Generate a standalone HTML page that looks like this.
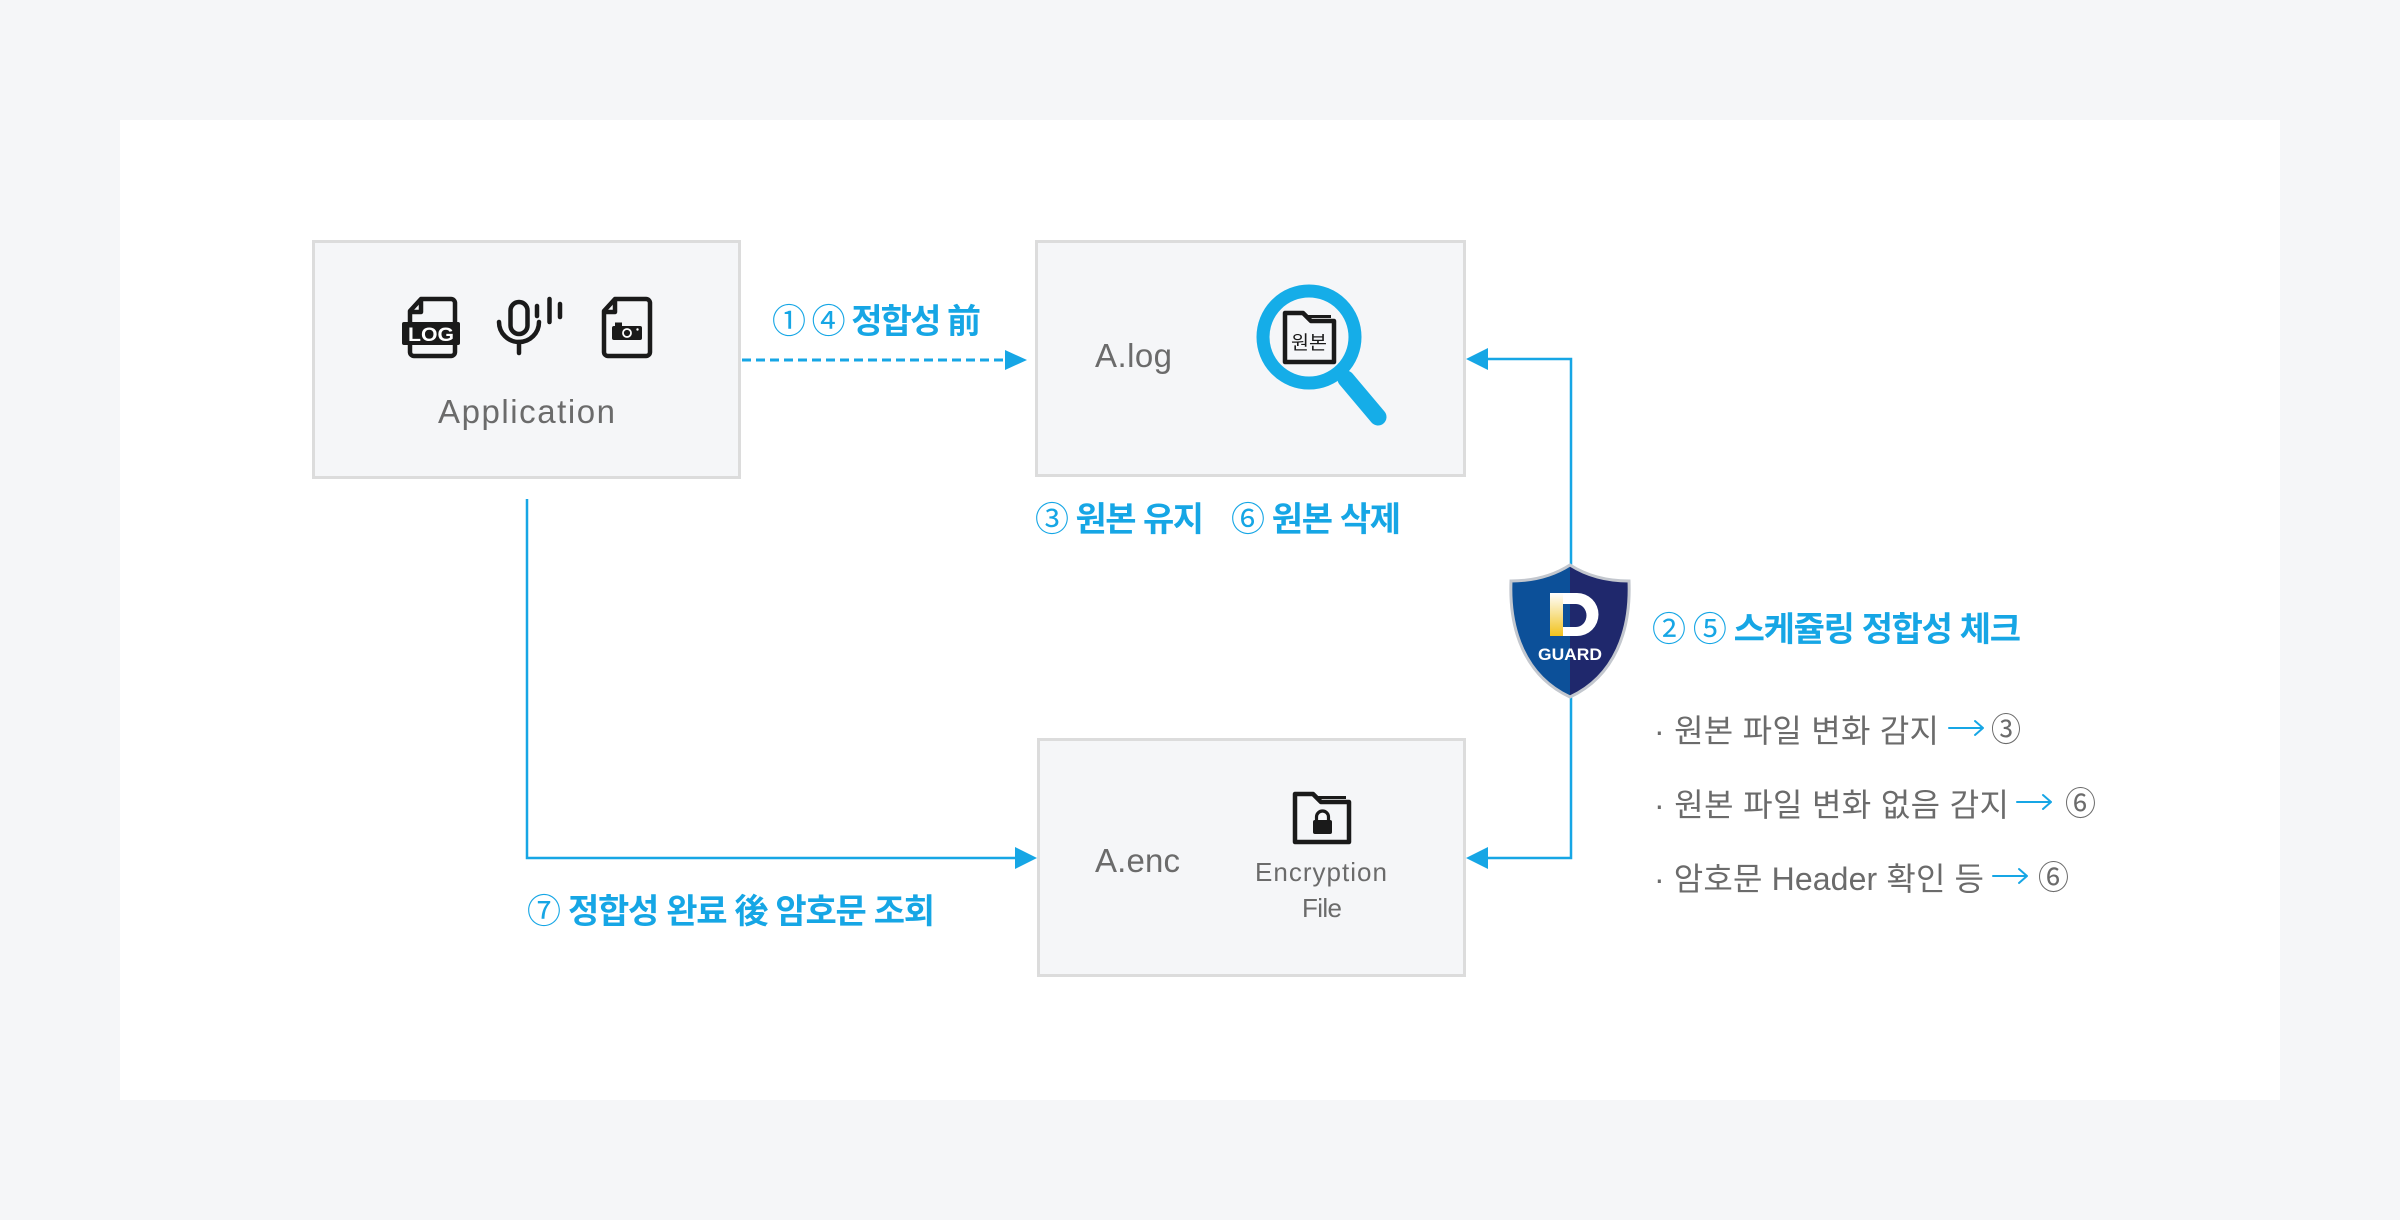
<!DOCTYPE html>
<html>
<head>
<meta charset="utf-8">
<style>
html,body{margin:0;padding:0;background:#f5f6f8;}
svg{display:block;}
text{font-family:"Liberation Sans","Noto Sans CJK KR",sans-serif;}
.blue{fill:#16a6e5;font-weight:700;font-size:34px;}
.gray{fill:#6b6b6b;font-size:33px;}
.bul{fill:#6b6b6b;font-size:32px;}
.cn{font-weight:400;}
</style>
</head>
<body>
<svg width="2400" height="1220" viewBox="0 0 2400 1220" xmlns="http://www.w3.org/2000/svg">
  <defs>
    <linearGradient id="shg" x1="0" y1="0" x2="1" y2="0">
      <stop offset="0.5" stop-color="#0c5099"/>
      <stop offset="0.5" stop-color="#1f286c"/>
    </linearGradient>
    <linearGradient id="yg" x1="0" y1="0" x2="0" y2="1">
      <stop offset="0" stop-color="#ffffff"/>
      <stop offset="0.45" stop-color="#f8e49a"/>
      <stop offset="1" stop-color="#f2c21c"/>
    </linearGradient>
  </defs>

  <!-- background & panel -->
  <rect x="0" y="0" width="2400" height="1220" fill="#f5f6f8"/>
  <rect x="120" y="120" width="2160" height="980" fill="#ffffff"/>

  <!-- boxes -->
  <rect x="313.5" y="241.5" width="426" height="236" fill="#f5f6f8" stroke="#dcdcdc" stroke-width="3"/>
  <rect x="1036.5" y="241.5" width="428" height="234" fill="#f5f6f8" stroke="#dcdcdc" stroke-width="3"/>
  <rect x="1038.5" y="739.5" width="426" height="236" fill="#f5f6f8" stroke="#dcdcdc" stroke-width="3"/>

  <!-- Application icons -->
  <g fill="none" stroke="#1a1a1a" stroke-width="4.5" stroke-linejoin="round" stroke-linecap="round">
    <path d="M421,299 H451 a4,4 0 0 1 4,4 V352 a4,4 0 0 1 -4,4 H414 a4,4 0 0 1 -4,-4 V311 Z"/>
    <path d="M421,300 V312 H411"/>
    <rect x="510.5" y="302" width="17" height="32" rx="8.5"/>
    <path d="M499,322 A20,20 0 0 0 539,322"/>
    <path d="M519,342 V353"/>
    <path d="M537,306 V316"/>
    <path d="M549.5,299 V322"/>
    <path d="M560,304 V317"/>
    <path d="M615,299 H646 a4,4 0 0 1 4,4 V352 a4,4 0 0 1 -4,4 H608 a4,4 0 0 1 -4,-4 V311 Z"/>
    <path d="M615,300 V312 H605"/>
  </g>
  <rect x="402" y="322" width="58" height="23" rx="2" fill="#1a1a1a"/>
  <text x="431" y="341" text-anchor="middle" fill="#ffffff" font-size="19" font-weight="700" textLength="46" lengthAdjust="spacingAndGlyphs">LOG</text>
  <rect x="612" y="326" width="30" height="14" rx="2" fill="#1a1a1a"/>
  <rect x="615" y="322.5" width="7" height="5" fill="#1a1a1a"/>
  <circle cx="627" cy="333" r="4" fill="#1a1a1a" stroke="#ffffff" stroke-width="1.8"/>
  <circle cx="637.5" cy="329.5" r="1.2" fill="#ffffff"/>

  <text x="438" y="423" class="gray" font-weight="500" textLength="177" lengthAdjust="spacing">Application</text>

  <!-- dashed arrow -->
  <line x1="742" y1="360" x2="1006" y2="360" stroke="#16a6e5" stroke-width="3" stroke-dasharray="9 5"/>
  <polygon points="1005,350 1027,360 1005,370" fill="#16a6e5"/>
  <text x="772" y="333" class="blue" textLength="209" lengthAdjust="spacing"><tspan class="cn">①</tspan> <tspan class="cn">④</tspan> 정합성 前</text>

  <!-- A.log -->
  <text x="1095" y="367" class="gray" font-weight="500" textLength="77" lengthAdjust="spacing">A.log</text>
  <circle cx="1309" cy="337" r="46" fill="#f5f6f8" stroke="#15ade8" stroke-width="13"/>
  <line x1="1346" y1="379" x2="1378" y2="417" stroke="#15ade8" stroke-width="17" stroke-linecap="round"/>
  <g fill="none" stroke="#1a1a1a" stroke-linejoin="round">
    <path d="M1285,313 H1303 L1311,321 H1334 V362 H1285 Z" fill="#f5f6f8" stroke-width="4.5"/>
    <path d="M1307,316.5 H1331" stroke-width="3"/>
  </g>
  <text x="1291" y="349" fill="#1a1a1a" font-size="19" textLength="36" lengthAdjust="spacingAndGlyphs">원본</text>

  <text x="1035" y="531" class="blue" textLength="169" lengthAdjust="spacing"><tspan class="cn">③</tspan> 원본 유지</text>
  <text x="1231" y="531" class="blue" textLength="170" lengthAdjust="spacing"><tspan class="cn">⑥</tspan> 원본 삭제</text>

  <!-- right connectors -->
  <polyline points="1571,566 1571,359 1487,359" fill="none" stroke="#16a6e5" stroke-width="2.5"/>
  <polygon points="1488,348 1466,359 1488,370" fill="#16a6e5"/>
  <polyline points="1571,696 1571,858 1487,858" fill="none" stroke="#16a6e5" stroke-width="2.5"/>
  <polygon points="1488,847 1466,858 1488,869" fill="#16a6e5"/>

  <!-- left connector -->
  <polyline points="527,499 527,858 1016,858" fill="none" stroke="#16a6e5" stroke-width="2.5"/>
  <polygon points="1015,847 1037,858 1015,869" fill="#16a6e5"/>
  <text x="527" y="923" class="blue" textLength="408" lengthAdjust="spacing"><tspan class="cn">⑦</tspan> 정합성 완료 後 암호문 조회</text>

  <!-- shield -->
  <path d="M1570,565 Q1545,581 1511,581 C1509,630 1525,676 1570,697 C1615,676 1631,630 1629,581 Q1595,581 1570,565 Z" fill="url(#shg)" stroke="#c3c7ce" stroke-width="3"/>
  <rect x="1550" y="593" width="13" height="43" fill="url(#yg)"/>
  <path d="M1563,593 H1577 A21.5,21.5 0 0 1 1577,636 H1563 Z M1563,604 H1576 A10.5,11.5 0 0 1 1576,627 H1563 Z" fill="#ffffff" fill-rule="evenodd"/>
  <text x="1538" y="660" fill="#ffffff" font-size="17" font-weight="700" textLength="64" lengthAdjust="spacingAndGlyphs">GUARD</text>

  <!-- A.enc -->
  <text x="1095" y="872" class="gray" font-weight="500" textLength="85" lengthAdjust="spacing">A.enc</text>
  <g fill="none" stroke="#1a1a1a" stroke-linejoin="round">
    <path d="M1295,794 H1313 L1321,802 H1349 V842 H1295 Z" stroke-width="4.5"/>
    <path d="M1317,797.5 H1346" stroke-width="3"/>
    <path d="M1316.5,821 V817 a6,6 0 0 1 12,0 V821" stroke-width="3.2"/>
  </g>
  <rect x="1313" y="820" width="19" height="14" rx="2" fill="#1a1a1a"/>
  <text x="1255" y="881" fill="#6b6b6b" font-size="26" textLength="132" lengthAdjust="spacing">Encryption</text>
  <text x="1302" y="917" fill="#6b6b6b" font-size="26" textLength="40" lengthAdjust="spacing">File</text>

  <!-- right side labels -->
  <text x="1652" y="641" class="blue" textLength="369" lengthAdjust="spacing"><tspan class="cn">②</tspan> <tspan class="cn">⑤</tspan> 스케쥴링 정합성 체크</text>

  <!-- bullet line 1 -->
  <text x="1654" y="742" class="bul" textLength="285" lengthAdjust="spacing">· 원본 파일 변화 감지</text>
  <g fill="none" stroke="#16a6e5" stroke-width="2" stroke-linecap="round" stroke-linejoin="round">
    <path d="M1949,728 H1983 M1975,721 L1983,728 L1975,735"/>
    <path d="M2017,802 H2051 M2043,795 L2051,802 L2043,809"/>
    <path d="M1993,876 H2027 M2019,869 L2027,876 L2019,883"/>
  </g>
  <text x="1991" y="741" fill="#6b6b6b" font-size="33" textLength="30" lengthAdjust="spacingAndGlyphs">③</text>

  <!-- bullet line 2 -->
  <text x="1654" y="816" class="bul" textLength="355" lengthAdjust="spacing">· 원본 파일 변화 없음 감지</text>
  <text x="2065" y="815" fill="#6b6b6b" font-size="33" textLength="31" lengthAdjust="spacingAndGlyphs">⑥</text>

  <!-- bullet line 3 -->
  <text x="1654" y="890" class="bul" textLength="330" lengthAdjust="spacing">· 암호문 Header 확인 등</text>
  <text x="2038" y="889" fill="#6b6b6b" font-size="33" textLength="31" lengthAdjust="spacingAndGlyphs">⑥</text>
</svg>
</body>
</html>
